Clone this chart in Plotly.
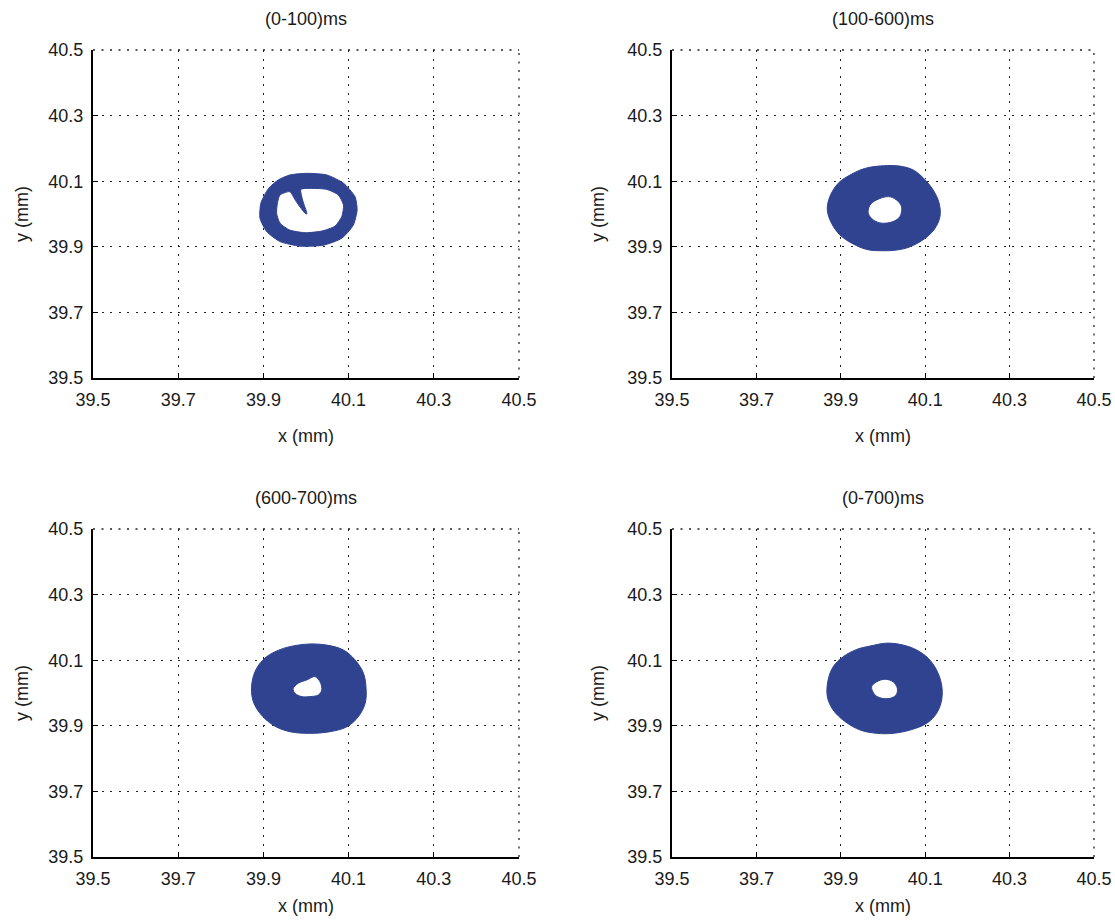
import plotly.graph_objects as go
from plotly.subplots import make_subplots

# Panel titles (time windows of the tool-tip orbit)
panel_titles = ["(0-100)ms", "(100-600)ms", "(600-700)ms", "(0-700)ms"]

tick_vals = [39.5, 39.7, 39.9, 40.1, 40.3, 40.5]
tick_text = ["39.5", "39.7", "39.9", "40.1", "40.3", "40.5"]

# Outer / inner boundary of the orbit band in each window (mm)
outer_x_0_100 = [39.962, 40.002, 40.049, 40.088, 40.115, 40.120, 40.111, 40.084, 40.041,
                 39.986, 39.939, 39.908, 39.892, 39.894, 39.912, 39.935]
outer_y_0_100 = [40.119, 40.124, 40.119, 40.094, 40.053, 40.012, 39.966, 39.926, 39.905,
                 39.902, 39.916, 39.946, 39.987, 40.033, 40.078, 40.104]
inner_x_0_100 = [39.939, 39.962, 39.977, 39.998, 40.002, 39.992, 39.988, 40.013, 40.049,
                 40.076, 40.088, 40.084, 40.068, 40.037, 39.998, 39.962, 39.939, 39.931, 39.933]
inner_y_0_100 = [40.058, 40.068, 40.038, 40.002, 40.000, 40.043, 40.075, 40.078, 40.075,
                 40.058, 40.027, 39.992, 39.963, 39.948, 39.943, 39.951, 39.972, 40.002, 40.034]

outer_x_100_600 = [40.001, 40.040, 40.072, 40.096, 40.119, 40.133, 40.135, 40.123, 40.100,
                   40.064, 40.032, 39.997, 39.961, 39.926, 39.898, 39.878, 39.868, 39.874,
                   39.894, 39.922, 39.957]
outer_y_100_600 = [40.147, 40.146, 40.134, 40.109, 40.073, 40.033, 39.992, 39.956, 39.926,
                   39.900, 39.890, 39.888, 39.892, 39.911, 39.936, 39.972, 40.012, 40.053,
                   40.094, 40.119, 40.139]
inner_x_100_600 = [39.969, 39.985, 40.013, 40.032, 40.044, 40.040, 40.024, 39.997, 39.977, 39.965]
inner_y_100_600 = [40.027, 40.043, 40.053, 40.043, 40.022, 39.992, 39.977, 39.972, 39.982, 40.002]

outer_x_600_700 = [40.002, 40.049, 40.088, 40.115, 40.135, 40.141, 40.139, 40.123, 40.096,
                   40.056, 40.009, 39.962, 39.923, 39.892, 39.875, 39.873, 39.884, 39.908, 39.947]
outer_y_600_700 = [40.149, 40.146, 40.131, 40.101, 40.060, 40.014, 39.969, 39.928, 39.897,
                   39.882, 39.877, 39.882, 39.902, 39.938, 39.979, 40.030, 40.075, 40.111, 40.136]
inner_x_600_700 = [39.970, 39.982, 40.002, 40.021, 40.033, 40.037, 40.029, 40.009, 39.990, 39.974]
inner_y_600_700 = [40.014, 40.030, 40.040, 40.050, 40.034, 40.009, 39.994, 39.989, 39.989, 39.999]

outer_x_0_700 = [39.969, 40.009, 40.048, 40.080, 40.107, 40.127, 40.139, 40.139, 40.127,
                 40.104, 40.064, 40.024, 39.985, 39.946, 39.910, 39.882, 39.868, 39.870,
                 39.882, 39.906, 39.938]
outer_y_0_700 = [40.143, 40.152, 40.146, 40.131, 40.106, 40.070, 40.024, 39.979, 39.938,
                 39.908, 39.887, 39.877, 39.877, 39.887, 39.913, 39.948, 39.989, 40.040,
                 40.080, 40.111, 40.133]
inner_x_0_700 = [39.973, 39.985, 40.005, 40.024, 40.034, 40.031, 40.017, 39.997, 39.981]
inner_y_0_700 = [40.019, 40.034, 40.042, 40.034, 40.014, 39.994, 39.984, 39.984, 39.994]

panels = [
    (outer_x_0_100, outer_y_0_100, inner_x_0_100, inner_y_0_100),
    (outer_x_100_600, outer_y_100_600, inner_x_100_600, inner_y_100_600),
    (outer_x_600_700, outer_y_600_700, inner_x_600_700, inner_y_600_700),
    (outer_x_0_700, outer_y_0_700, inner_x_0_700, inner_y_0_700),
]

BAND = "#2f4390"
FONT = "Liberation Sans, Arial, sans-serif"
TXT = "#1a1a1a"
DOT = "2px,6.5px"

fig = make_subplots(rows=2, cols=2)

W, H = 1115, 922
x_domains = [[93 / W, 519 / W], [672 / W, 1094 / W]]
y_domains = [[1 - 378 / H, 1 - 50 / H], [1 - 857 / H, 1 - 529 / H]]
x_title_px = [436, 906]
y_title_px = [22, 598]

for i, (ox, oy, ix, iy) in enumerate(panels):
    r, c = i // 2 + 1, i % 2 + 1
    # outer boundary plus the reversed inner boundary -> band with a hole
    xs = ox + [ox[0], None] + ix[::-1] + [ix[-1]]
    ys = oy + [oy[0], None] + iy[::-1] + [iy[-1]]
    fig.add_trace(go.Scatter(x=xs, y=ys, mode="lines", fill="toself",
                             fillcolor=BAND,
                             line=dict(color=BAND, width=1, shape="spline",
                                       smoothing=0.6 if i == 0 else 1.0),
                             showlegend=False, hoverinfo="skip"), row=r, col=c)

axis_common = dict(
    range=[39.5, 40.5], tickvals=tick_vals, ticktext=tick_text, automargin=False,
    showgrid=True, gridcolor="#222", gridwidth=1.3, griddash=DOT,
    showline=True, linecolor="black", linewidth=2, mirror=False,
    ticks="inside", ticklen=5, tickwidth=1.2, tickcolor="black",
    zeroline=False, tickfont=dict(family=FONT, size=18, color=TXT),
)

for i in range(4):
    r, c = i // 2, i % 2
    n = "" if i == 0 else str(i + 1)
    fig.layout["xaxis" + n].update(domain=x_domains[c], ticklabelstandoff=4, **axis_common)
    fig.layout["yaxis" + n].update(domain=y_domains[r], ticklabelstandoff=4, **axis_common)

    # dotted frame along the top and right edges (grid at 40.5)
    fig.add_shape(type="line", xref=f"x{n} domain", yref=f"y{n} domain",
                  x0=0, x1=1, y0=1, y1=1, line=dict(color="#222", width=1.3, dash=DOT))
    fig.add_shape(type="line", xref=f"x{n} domain", yref=f"y{n} domain",
                  x0=1, x1=1, y0=0, y1=1, line=dict(color="#222", width=1.3, dash=DOT))

    fig.add_annotation(text=panel_titles[i], xref="paper", yref="paper",
                       x=sum(x_domains[c]) / 2, y=y_domains[r][1] + 31 / H,
                       xanchor="center", yanchor="middle", showarrow=False,
                       font=dict(family=FONT, size=18, color=TXT))
    fig.add_annotation(text="x (mm)", xref="paper", yref="paper",
                       x=sum(x_domains[c]) / 2, y=1 - x_title_px[r] / H,
                       xanchor="center", yanchor="middle", showarrow=False,
                       font=dict(family=FONT, size=18, color=TXT))
    fig.add_annotation(text="y (mm)", xref="paper", yref="paper", textangle=-90,
                       x=y_title_px[c] / W, y=sum(y_domains[r]) / 2,
                       xanchor="center", yanchor="middle", showarrow=False,
                       font=dict(family=FONT, size=18, color=TXT))

fig.update_layout(width=W, height=H, margin=dict(l=0, r=0, t=0, b=0),
                  plot_bgcolor="white", paper_bgcolor="white")

fig.write_html("out.html")
